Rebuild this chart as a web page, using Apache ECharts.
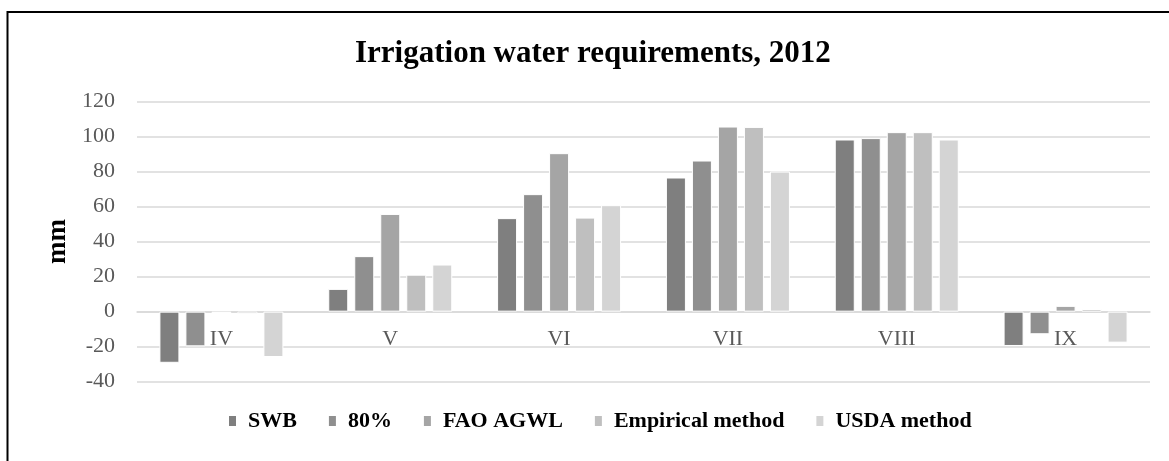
<!DOCTYPE html>
<html>
<head>
    <meta charset="utf-8">
    <script src="https://cdn.jsdelivr.net/npm/echarts@6/dist/echarts.min.js"></script>
    <style>
        html, body { margin: 0; padding: 0; background: #fff; }
        #main { width: 1169px; height: 461px; }
    </style>
</head>
<body>
<div id="main"></div>
<script type="text/javascript">
    // months (category axis)
    var months = ['IV', 'V', 'VI', 'VII', 'VIII', 'IX'];

    // irrigation water requirement, mm
    var swb       = [-29.2, 13.0, 53.4, 76.6, 98.3, -19.6];
    var p80       = [-19.8, 31.7, 67.1, 86.3, 99.1, -12.9];
    var faoAgwl   = [-0.8, 55.8, 90.5, 105.7, 102.5, 3.3];
    var empirical = [-1.4, 21.1, 53.7, 105.5, 102.5, 1.5];
    var usda      = [-25.9, 26.9, 60.8, 80.0, 98.3, -17.7];

    var seriesNames = ['SWB', '80%', 'FAO AGWL', 'Empirical method', 'USDA method'];
    var seriesData = [swb, p80, faoAgwl, empirical, usda];
    var colors = ['#7f7f7f', '#8f8f8f', '#a5a5a5', '#bfbfbf', '#d4d4d4'];

    var yTicks = { min: -40, max: 120, step: 20 };

    var font = 'Liberation Serif, Times New Roman, serif';
    var myChart = echarts.init(document.getElementById('main'));

    var gridTop = 101.5, gridBottom = 79.3, chartH = 461;
    // pixel distance from bottom of grid up to the zero line (category labels sit there)
    var plotH = chartH - gridTop - gridBottom;
    var zeroOffset = plotH * (0 - yTicks.min) / (yTicks.max - yTicks.min);

    var series = seriesNames.map(function (name, i) {
        return {
            name: name,
            type: 'bar',
            data: seriesData[i],
            barWidth: 20,
            barGap: '30%',
            itemStyle: { color: colors[i], borderColor: '#fff', borderWidth: 1 }
        };
    });

    var option = {
        animation: false,
        backgroundColor: '#fff',
        color: colors,
        title: {
            text: 'Irrigation water requirements, 2012',
            left: 350,
            top: 33,
            textStyle: { fontFamily: font, fontSize: 31, fontWeight: 'bold', color: '#000' }
        },
        legend: {
            data: seriesNames,
            left: 222,
            top: 405,
            itemWidth: 9,
            itemHeight: 12,
            itemGap: 30,
            icon: 'rect',
            textStyle: { fontFamily: font, fontSize: 22, fontWeight: 'bold', color: '#000', padding: [0, 0, 0, 6] }
        },
        grid: { left: 137, right: 19, top: gridTop, bottom: gridBottom, containLabel: false, outerBoundsMode: 'none' },
        xAxis: {
            type: 'category',
            data: months,
            offset: -zeroOffset,
            axisLine: { onZero: false, lineStyle: { color: '#d9d9d9', width: 1.5 } },
            axisTick: { show: false },
            axisLabel: { fontFamily: font, fontSize: 22, color: '#595959', margin: 17 }
        },
        yAxis: {
            type: 'value',
            min: yTicks.min,
            max: yTicks.max,
            interval: yTicks.step,
            name: 'mm',
            nameLocation: 'middle',
            nameGap: 60,
            nameTextStyle: { fontFamily: font, fontSize: 27, fontWeight: 'bold', color: '#000' },
            axisLine: { show: false },
            axisTick: { show: false },
            axisLabel: { fontFamily: font, fontSize: 22, color: '#595959', margin: 22 },
            splitLine: { lineStyle: { color: '#d9d9d9', width: 1.5 } }
        },
        // frame lines of the original figure (top and left edges)
        graphic: [
            { type: 'line', shape: { x1: 7, y1: 12, x2: 1169, y2: 12 }, style: { stroke: '#000', lineWidth: 2 } },
            { type: 'line', shape: { x1: 7.5, y1: 11, x2: 7.5, y2: 461 }, style: { stroke: '#000', lineWidth: 2 } }
        ],
        series: series
    };
    myChart.setOption(option);
</script>
</body>
</html>
